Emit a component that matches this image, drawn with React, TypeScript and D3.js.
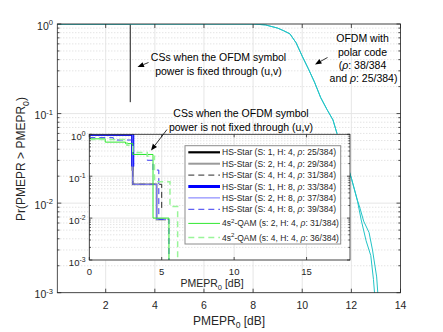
import React from 'react';
import * as d3 from 'd3';

// main plot: OFDM with polar code, two runs (Pr vs PMEPR0 in dB)
const polarX38 = [0.03, 8.0, 8.5, 9.0, 9.25, 9.5, 9.75, 10.0, 10.25, 10.5, 10.75, 11.0, 11.25, 11.5, 11.75, 12.0, 12.25, 12.4, 12.6, 12.79, 12.9, 12.97];
const polarP38 = [1, 1, 0.977, 0.9, 0.84, 0.776, 0.617, 0.437, 0.316, 0.224, 0.151, 0.112, 0.085, 0.05, 0.0316, 0.019, 0.0105, 0.0065, 0.0038, 0.0026, 0.0014, 0.0008];
const polarX25 = [0.03, 8.0, 8.5, 9.0, 9.25, 9.5, 9.75, 10.0, 10.25, 10.5, 10.75, 11.0, 11.25, 11.5, 11.75, 12.0, 12.25, 12.35, 12.5, 12.72, 12.86, 13.03, 13.1];
const polarP25 = [1, 1, 0.977, 0.9, 0.84, 0.776, 0.617, 0.437, 0.316, 0.224, 0.151, 0.112, 0.085, 0.05, 0.0316, 0.019, 0.0107, 0.0088, 0.0063, 0.0047, 0.003, 0.0015, 0.0008];

// CSs with fixed symbol power (main plot)
const fixedX = [0.03, 3, 3];
const fixedP = [1, 1, 0.134];

// inset: step CCDFs, value ps[i] holds from xs[i] to the next x (last one up to ends)
const insetXs = [
  [0, 3],
  [0, 3, 4.65],
  [0, 3, 5],
  [0, 3],
  [0, 3, 4.65],
  [0, 1.66, 3, 4.0, 4.4, 4.8, 5.5],
  [0, 1.1, 2.5, 3, 4.4, 5.5],
  [0, 2.6, 3, 4.0, 4.5, 5.57, 6.1],
];
const insetPs = [
  [1, 0.134],
  [1, 0.064, 0.0093],
  [1, 0.064, 0.0158],
  [1, 0.17],
  [1, 0.064, 0.0093],
  [0.83, 0.73, 0.33, 0.24, 0.14, 0.0093, 0.0001],
  [0.78, 0.65, 0.6, 0.33, 0.01, 0.0001],
  [0.75, 0.55, 0.37, 0.3, 0.074, 0.019, 0.0001],
];
const insetEnds = [3, 5.3, 5, 3, 5.3, 5.5, 5.5, 6.1];

const legendLabels = [
  'HS-Star (S: 1, H: 4, ρ: 25/384)',
  'HS-Star (S: 2, H: 4, ρ: 29/384)',
  'HS-Star (S: 4, H: 4, ρ: 31/384)',
  'HS-Star (S: 1,  H: 8, ρ: 33/384)',
  'HS-Star (S: 2, H: 8, ρ: 37/384)',
  'HS-Star (S: 4, H: 8, ρ: 39/384)',
  '4s^{2}-QAM (s: 2, H: 4, ρ: 31/384)',
  '4s^{2}-QAM (s: 4, H: 4, ρ: 36/384)',
];

const mainXTicks = [2, 4, 6, 8, 10, 12, 14];
const insetXTicks = [0, 5, 10, 15];
const yExps = [0, -1, -2, -3];

const seriesStyle = [
  { color: '#000000', width: 2.2, dash: null },
  { color: '#9a9a9a', width: 2, dash: null },
  { color: '#2a2a2a', width: 1, dash: '6,4' },
  { color: '#0000ff', width: 3, dash: null },
  { color: '#7373ff', width: 1, dash: null },
  { color: '#3a3af0', width: 1, dash: '6,4' },
  { color: '#2fe82f', width: 1, dash: null },
  { color: '#99f599', width: 1.5, dash: '6,4' },
];

const FONT = 'Liberation Sans, Arial, Helvetica, sans-serif';
const AX = '#262626';
const CYAN = '#22c3c6';

function rich(s: string, fs: number) {
  const parts = s.split(/(\^\{[^}]*\}|_\{[^}]*\}|ρ)/).filter(Boolean);
  let shift = 0;
  return parts.map((p, i) => {
    if (p.startsWith('^{') || p.startsWith('_{')) {
      const target = p[0] === '^' ? -fs * 0.42 : fs * 0.3;
      const dy = target - shift;
      shift = target;
      return <tspan key={i} dy={dy} fontSize={fs * 0.72}>{p.slice(2, -1)}</tspan>;
    }
    const dy = -shift;
    shift = 0;
    return <tspan key={i} dy={dy || undefined} fontStyle={p === 'ρ' ? 'italic' : undefined}>{p}</tspan>;
  });
}

const minorVals: number[] = [];
yExps.slice(1).forEach(e => { for (let k = 2; k <= 9; k++) minorVals.push(k * Math.pow(10, e)); });

export default function App() {
  const mx = d3.scaleLinear().domain([0.03, 14]).range([57.3, 400.5]);
  const my = d3.scaleLog().domain([1e-3, 1]).range([292.7, 24]);
  const ix = d3.scaleLinear().domain([0, 18]).range([89.3, 350]);
  const iy = d3.scaleLog().domain([1e-3, 1]).range([260, 134.3]);

  const mainLine = d3.line<[number, number]>().x(d => mx(d[0])).y(d => my(d[1]));
  const stepLine = d3.line<[number, number]>().x(d => ix(d[0])).y(d => iy(d[1])).curve(d3.curveStepAfter);

  const zip = (xs: number[], ps: number[]) => xs.map((x, i) => [x, ps[i]] as [number, number]);

  const [ml, mr] = mx.range();
  const [mb, mt] = my.range();
  const [il, ir] = ix.range();
  const [ib, it] = iy.range();

  const axesFrame = (l: number, r: number, t: number, b: number, xs: (v: number) => number, ys: (v: number) => number, xt: number[], len: number) => (
    <g stroke={AX} strokeWidth={0.8} fill="none">
      {xt.map(v => (
        <g key={'xt' + v}>
          <line x1={xs(v)} x2={xs(v)} y1={b} y2={b - len} />
          <line x1={xs(v)} x2={xs(v)} y1={t} y2={t + len} />
        </g>
      ))}
      {yExps.map(e => (
        <g key={'yt' + e}>
          <line x1={l} x2={l + len} y1={ys(Math.pow(10, e))} y2={ys(Math.pow(10, e))} />
          <line x1={r} x2={r - len} y1={ys(Math.pow(10, e))} y2={ys(Math.pow(10, e))} />
        </g>
      ))}
      {minorVals.map(v => (
        <g key={'ym' + v}>
          <line x1={l} x2={l + len * 0.55} y1={ys(v)} y2={ys(v)} />
          <line x1={r} x2={r - len * 0.55} y1={ys(v)} y2={ys(v)} />
        </g>
      ))}
      <rect x={l} y={t} width={r - l} height={b - t} />
    </g>
  );

  const grid = (l: number, r: number, t: number, b: number, xs: (v: number) => number, ys: (v: number) => number, xt: number[]) => (
    <g fill="none">
      {minorVals.map(v => (
        <line key={'gm' + v} x1={l} x2={r} y1={ys(v)} y2={ys(v)} stroke="#cfcfcf" strokeWidth={0.8} strokeDasharray="1,2" />
      ))}
      {yExps.map(e => (
        <line key={'gy' + e} x1={l} x2={r} y1={ys(Math.pow(10, e))} y2={ys(Math.pow(10, e))} stroke="#e3e3e3" strokeWidth={0.9} />
      ))}
      {xt.map(v => (
        <line key={'gx' + v} x1={xs(v)} x2={xs(v)} y1={t} y2={b} stroke="#e3e3e3" strokeWidth={0.9} />
      ))}
    </g>
  );

  const arrow = (x1: number, y1: number, x2: number, y2: number) => {
    const a = Math.atan2(y2 - y1, x2 - x1);
    const hl = 6.5, hw = 2.6;
    const bx = x2 - hl * Math.cos(a), by = y2 - hl * Math.sin(a);
    const px = -Math.sin(a) * hw, py = Math.cos(a) * hw;
    return (
      <g>
        <line x1={x1} y1={y1} x2={bx} y2={by} stroke="#000" strokeWidth={0.8} />
        <polygon points={`${x2},${y2} ${bx + px},${by + py} ${bx - px},${by - py}`} fill="#000" />
      </g>
    );
  };

  let legY = 152.3;
  const legRows = legendLabels.map((lab, i) => {
    if (i > 0) legY += lab.includes('^') ? 14.1 : 11.4;
    return { lab, y: legY, s: seriesStyle[i] };
  });

  return (
    <svg width={443} height={332} style={{ position: 'absolute', left: 0, top: 0, background: '#fff' }} fontFamily={FONT}>
      <defs>
        <clipPath id="mclip"><rect x={ml} y={mt} width={mr - ml} height={mb - mt} /></clipPath>
        <clipPath id="iclip"><rect x={il} y={it} width={ir - il} height={ib - it} /></clipPath>
      </defs>
      <rect x={0} y={0} width={443} height={332} fill="#fff" />

      {/* main axes */}
      {grid(ml, mr, mt, mb, mx, my, mainXTicks)}
      <g clipPath="url(#mclip)" fill="none">
        <path d={mainLine(zip(fixedX, fixedP)) || ''} stroke="#1a1a1a" strokeWidth={1} />
        <path d={mainLine(zip(polarX38, polarP38)) || ''} stroke={CYAN} strokeWidth={1} />
        <path d={mainLine(zip(polarX25, polarP25)) || ''} stroke={CYAN} strokeWidth={1} />
      </g>
      {axesFrame(ml, mr, mt, mb, mx, my, mainXTicks, 4)}
      <g fill={AX} fontSize={10.5}>
        {mainXTicks.map(v => (
          <text key={v} x={mx(v)} y={309} textAnchor="middle">{v}</text>
        ))}
        {yExps.map(e => (
          <text key={e} x={53} y={my(Math.pow(10, e)) + 5.5} textAnchor="end">{rich(`10^{${e}}`, 10.5)}</text>
        ))}
      </g>
      <text x={mx(7) + 0.5} y={324.5} textAnchor="middle" fontSize={12} fill={AX}>{rich('PMEPR_{0} [dB]', 12)}</text>
      <text transform="translate(25,159) rotate(-90)" textAnchor="middle" fontSize={12} fill={AX}>{rich('Pr(PMEPR > PMEPR_{0})', 12)}</text>

      {/* annotations */}
      <g fontSize={10.5} fill="#000" textAnchor="middle">
        <text x={218.5} y={61}>CSs when the OFDM symbol</text>
        <text x={218.5} y={74.5}>power is fixed through (u,v)</text>
        <text x={241} y={117}>CSs when the OFDM symbol</text>
        <text x={241} y={130.5}>power is not fixed through (u,v)</text>
        <text x={362.5} y={42}>OFDM with</text>
        <text x={362.5} y={56}>polar code</text>
        <text x={362.5} y={69}>({rich('ρ', 10.5)}: 38/384</text>
        <text x={363.5} y={82.4}>and {rich('ρ', 10.5)}: 25/384)</text>
      </g>
      {arrow(148.5, 62.5, 137.5, 67)}
      {arrow(327.5, 57.5, 315, 64.5)}

      {/* inset axes */}
      <rect x={il} y={it} width={ir - il} height={ib - it} fill="#fff" />
      {grid(il, ir, it, ib, ix, iy, insetXTicks)}
      <g clipPath="url(#iclip)" fill="none">
        {insetXs.map((xs, i) => {
          const pts = zip(xs, insetPs[i]);
          pts.push([insetEnds[i], insetPs[i][insetPs[i].length - 1]]);
          const s = seriesStyle[i];
          return <path key={i} d={stepLine(pts) || ''} stroke={s.color} strokeWidth={s.width} strokeDasharray={s.dash || undefined} />;
        })}
      </g>
      {axesFrame(il, ir, it, ib, ix, iy, insetXTicks, 3)}
      <g fill={AX} fontSize={9.5}>
        {insetXTicks.map(v => (
          <text key={v} x={ix(v)} y={274.5} textAnchor="middle">{v}</text>
        ))}
        {yExps.map(e => (
          <text key={e} x={85.5} y={iy(Math.pow(10, e)) + 5.5} textAnchor="end">{rich(`10^{${e}}`, 9.5)}</text>
        ))}
      </g>
      <text x={212} y={287} textAnchor="middle" fontSize={10.5} fill={AX}>{rich('PMEPR_{0} [dB]', 10.5)}</text>

      {/* legend */}
      <rect x={185} y={145.7} width={155.7} height={98.3} fill="#fff" stroke="#8c8c8c" strokeWidth={1} />
      {legRows.map((r, i) => (
        <g key={i}>
          <line x1={188.3} x2={220} y1={r.y} y2={r.y} stroke={r.s.color} strokeWidth={r.s.width} strokeDasharray={r.s.dash || undefined} />
          <text x={222} y={r.y + 3} fontSize={8.5} fill={AX}>{rich(r.lab, 8.5)}</text>
        </g>
      ))}
      {arrow(167, 129.5, 151, 150.5)}
    </svg>
  );
}
